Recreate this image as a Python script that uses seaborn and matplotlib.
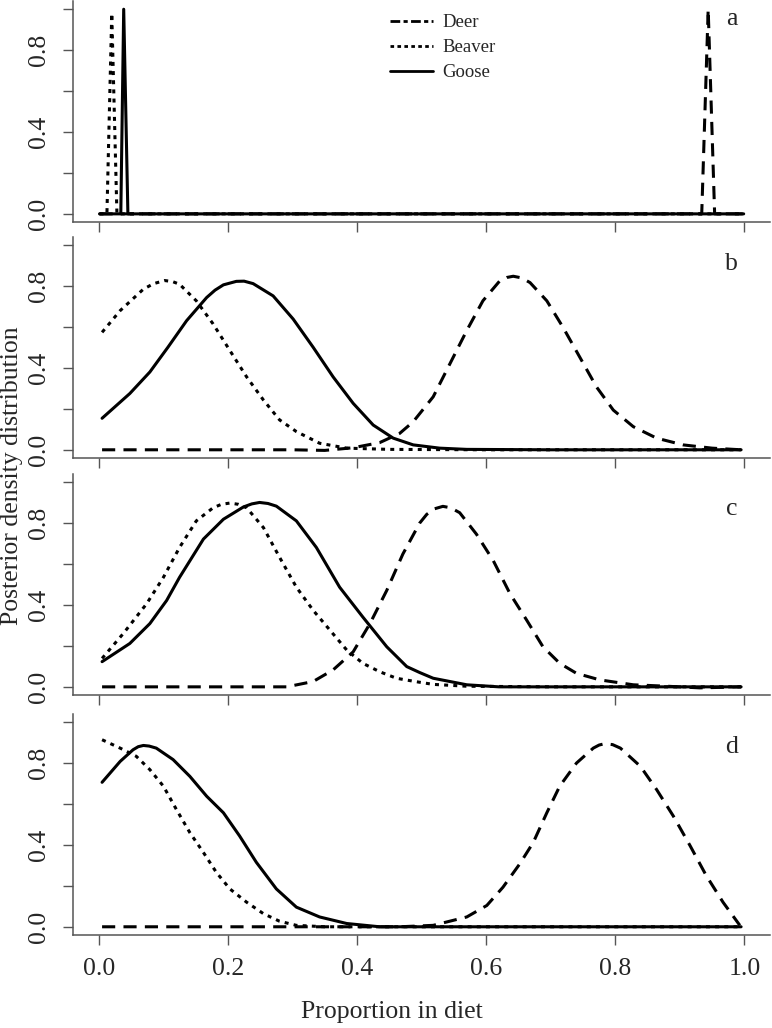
import matplotlib
matplotlib.use("Agg")
import matplotlib.pyplot as plt
from matplotlib.lines import Line2D
import pandas as pd
import seaborn as sns

# --- data (proportion in diet vs scaled posterior density) ---
sources = ["Deer", "Beaver", "Goose"]
panel_names = ["a", "b", "c", "d"]

# panel a: narrow spikes
deer_a_x = [0.001, 0.934, 0.944, 0.954, 0.999]
deer_a_y = [0.0, 0.0, 1.0, 0.0, 0.0]
beaver_a_x = [0.001, 0.0125, 0.02, 0.028, 0.999]
beaver_a_y = [0.0, 0.0, 0.98, 0.0, 0.0]
goose_a_x = [0.001, 0.034, 0.0385, 0.045, 0.999]
goose_a_y = [0.0, 0.0, 1.0, 0.0, 0.0]

# panel b
deer_b_x = [0.005, 0.30, 0.35, 0.394, 0.435, 0.466, 0.487, 0.518, 0.544, 0.570, 0.595,
            0.621, 0.632, 0.642, 0.655, 0.668, 0.694, 0.719, 0.745, 0.771, 0.797, 0.828,
            0.864, 0.905, 0.95, 0.995]
deer_b_y = [0.0, 0.0, -0.003, 0.01, 0.035, 0.08, 0.137, 0.259, 0.421, 0.583, 0.728,
            0.825, 0.842, 0.848, 0.840, 0.817, 0.728, 0.599, 0.453, 0.307, 0.194, 0.113,
            0.057, 0.024, 0.008, 0.0]
beaver_b_x = [0.005, 0.033, 0.069, 0.085, 0.102, 0.114, 0.125, 0.151, 0.177, 0.203,
              0.229, 0.255, 0.280, 0.306, 0.342, 0.384, 0.45, 0.6, 0.8, 0.995]
beaver_b_y = [0.574, 0.68, 0.785, 0.812, 0.827, 0.822, 0.809, 0.728, 0.615, 0.485,
              0.356, 0.243, 0.146, 0.089, 0.032, 0.008, 0.002, 0.0, 0.0, 0.0]
goose_b_x = [0.005, 0.048, 0.079, 0.107, 0.136, 0.167, 0.18, 0.193, 0.213, 0.225, 0.239,
             0.270, 0.301, 0.332, 0.363, 0.394, 0.425, 0.456, 0.487, 0.528, 0.57, 0.7,
             0.995]
goose_b_y = [0.154, 0.275, 0.38, 0.501, 0.631, 0.744, 0.78, 0.806, 0.823, 0.824, 0.812,
             0.752, 0.639, 0.501, 0.356, 0.227, 0.121, 0.057, 0.024, 0.008, 0.002, 0.0,
             0.0]

# panel c
deer_c_x = [0.005, 0.291, 0.332, 0.363, 0.394, 0.420, 0.446, 0.471, 0.497, 0.508, 0.520,
            0.533, 0.545, 0.559, 0.585, 0.611, 0.637, 0.663, 0.688, 0.714, 0.740, 0.776,
            0.828, 0.88, 0.931, 0.995]
deer_c_y = [0.0, 0.0, 0.026, 0.083, 0.171, 0.309, 0.471, 0.649, 0.80, 0.843, 0.870,
            0.882, 0.875, 0.851, 0.746, 0.617, 0.455, 0.325, 0.196, 0.115, 0.066, 0.034,
            0.01, 0.003, -0.005, 0.0]
beaver_c_x = [0.005, 0.038, 0.074, 0.1, 0.125, 0.151, 0.177, 0.19, 0.203, 0.216, 0.229,
              0.255, 0.280, 0.306, 0.332, 0.358, 0.384, 0.409, 0.435, 0.461, 0.490, 0.518,
              0.57, 0.7, 0.995]
beaver_c_y = [0.139, 0.261, 0.406, 0.535, 0.681, 0.811, 0.875, 0.892, 0.898, 0.892, 0.875,
              0.778, 0.633, 0.487, 0.374, 0.277, 0.180, 0.115, 0.074, 0.042, 0.026, 0.012,
              0.003, 0.0, 0.0]
goose_c_x = [0.005, 0.048, 0.079, 0.105, 0.125, 0.162, 0.193, 0.224, 0.237, 0.249, 0.262,
             0.275, 0.306, 0.337, 0.373, 0.409, 0.446, 0.477, 0.497, 0.518, 0.57, 0.62,
             0.995]
goose_c_y = [0.123, 0.212, 0.309, 0.422, 0.535, 0.722, 0.819, 0.879, 0.894, 0.901, 0.896,
             0.883, 0.811, 0.681, 0.487, 0.341, 0.196, 0.099, 0.07, 0.042, 0.01, 0.0, 0.0]

# panel d
deer_d_x = [0.005, 0.466, 0.518, 0.57, 0.601, 0.626, 0.652, 0.673, 0.694, 0.714, 0.740,
            0.766, 0.775, 0.784, 0.796, 0.808, 0.839, 0.864, 0.890, 0.916, 0.941, 0.967,
            0.993]
deer_d_y = [0.0, 0.0, 0.007, 0.048, 0.104, 0.193, 0.307, 0.412, 0.557, 0.687, 0.80,
            0.873, 0.888, 0.895, 0.890, 0.873, 0.784, 0.671, 0.541, 0.396, 0.25, 0.12,
            0.007]
beaver_d_x = [0.005, 0.033, 0.058, 0.079, 0.1, 0.12, 0.141, 0.162, 0.182, 0.203, 0.229,
              0.255, 0.28, 0.306, 0.35, 0.995]
beaver_d_y = [0.914, 0.873, 0.833, 0.768, 0.687, 0.574, 0.46, 0.363, 0.266, 0.185, 0.12,
              0.064, 0.027, 0.007, 0.0, 0.0]
goose_d_x = [0.005, 0.033, 0.053, 0.061, 0.069, 0.078, 0.089, 0.115, 0.141, 0.167, 0.193,
             0.218, 0.244, 0.275, 0.306, 0.342, 0.384, 0.435, 0.995]
goose_d_y = [0.706, 0.808, 0.865, 0.880, 0.886, 0.883, 0.873, 0.817, 0.735, 0.638, 0.557,
             0.444, 0.315, 0.185, 0.096, 0.048, 0.016, 0.0, 0.0]

xticks = [0.0, 0.2, 0.4, 0.6, 0.8, 1.0]
xtick_labels = ["0.0", "0.2", "0.4", "0.6", "0.8", "1.0"]
yticks = [0.0, 0.2, 0.4, 0.6, 0.8, 1.0]
ytick_labels = ["0.0", "", "0.4", "", "0.8", ""]

curves = {
    "a": {"Deer": (deer_a_x, deer_a_y), "Beaver": (beaver_a_x, beaver_a_y), "Goose": (goose_a_x, goose_a_y)},
    "b": {"Deer": (deer_b_x, deer_b_y), "Beaver": (beaver_b_x, beaver_b_y), "Goose": (goose_b_x, goose_b_y)},
    "c": {"Deer": (deer_c_x, deer_c_y), "Beaver": (beaver_c_x, beaver_c_y), "Goose": (goose_c_x, goose_c_y)},
    "d": {"Deer": (deer_d_x, deer_d_y), "Beaver": (beaver_d_x, beaver_d_y), "Goose": (goose_d_x, goose_d_y)},
}

# --- style ---
sns.set_style("ticks")
plt.rcParams["font.family"] = ["Liberation Serif", "DejaVu Serif"]

axis_col = "#555555"
line_dashes = {"Deer": (4.3, 2.7), "Beaver": (1.3, 1.7), "Goose": ""}
lw = 2.2

fig = plt.figure(figsize=(7.72, 10.28), dpi=100)

# axes boxes in figure fractions (left, bottom, width, height)
left, width, height = 0.0946, 0.903, 0.215
bottoms = [0.784, 0.5545, 0.3239, 0.0905]
label_y = [0.95, 0.91, 0.87, 0.88]

for i, name in enumerate(panel_names):
    ax = fig.add_axes([left, bottoms[i], width, height])
    frames = []
    for src in sources:
        xs, ys = curves[name][src]
        frames.append(pd.DataFrame({"x": xs, "y": ys, "source": src}))
    df = pd.concat(frames, ignore_index=True)

    sns.lineplot(data=df, x="x", y="y", style="source", style_order=sources,
                 dashes=line_dashes, color="black", lw=lw, estimator=None,
                 sort=False, legend=False, ax=ax)

    ax.set_xlim(-0.04, 1.04)
    ax.set_ylim(-0.04, 1.04)
    ax.set_xlabel("")
    ax.set_ylabel("")
    sns.despine(ax=ax)
    for sp in ["left", "bottom"]:
        ax.spines[sp].set_color(axis_col)
        ax.spines[sp].set_linewidth(1.1)

    ax.set_xticks(xticks)
    if name == "d":
        ax.set_xticklabels(xtick_labels)
    else:
        ax.set_xticklabels([])
    ax.set_yticks(yticks)
    ax.set_yticklabels(ytick_labels, rotation=90, va="center")
    ax.tick_params(axis="both", direction="out", length=7.5, width=1.0,
                   color=axis_col, labelsize=18.5)
    ax.tick_params(axis="y", pad=9)
    ax.tick_params(axis="x", pad=9)

    ax.text(0.98, label_y[i], name, ha="center", va="center", fontsize=18.5)

    if name == "a":
        handles = [
            Line2D([], [], color="black", lw=2.0, dashes=(3.5, 1.2, 1.5, 1.2)),
            Line2D([], [], color="black", lw=2.0, dashes=(1.3, 1.2)),
            Line2D([], [], color="black", lw=2.0),
        ]
        ax.legend(handles, sources, loc="upper left", bbox_to_anchor=(0.455, 0.94),
                  frameon=False, fontsize=13.5, handlelength=2.3, handletextpad=0.5,
                  labelspacing=0.42, borderpad=0, borderaxespad=0)

fig.text(12 / 772, 1 - 476 / 1028, "Posterior density distribution", rotation=90,
         ha="center", va="center", fontsize=18.5)
fig.text(392 / 772, 1 - 1012 / 1028, "Proportion in diet", ha="center", va="center",
         fontsize=18.5)

fig.savefig("out.png", dpi=100)
